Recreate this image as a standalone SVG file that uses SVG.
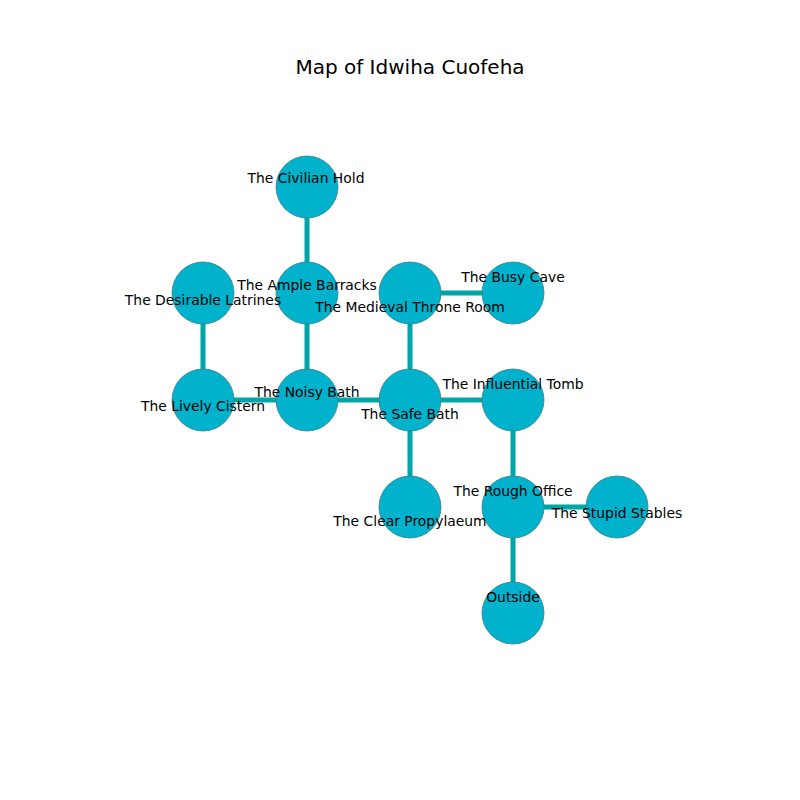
<svg xmlns="http://www.w3.org/2000/svg" width="800" height="800" viewBox="0 0 800 800">
<style>
.bg{fill:#ffffff}
.e{stroke:#00a5a5;stroke-width:5;fill:none}
.n{fill:#00b2cc;stroke:#3a7f8a;stroke-width:0.8}
.l{font-family:"DejaVu Sans",sans-serif;font-size:13.9px;fill:#000;text-anchor:middle}
.t{font-family:"DejaVu Sans",sans-serif;font-size:20px;fill:#000;text-anchor:middle}
</style>
<rect class="bg" x="0" y="0" width="800" height="800"/>
<text class="t" x="410" y="74">Map of Idwiha Cuofeha</text>
<g id="connectors">
<line class="e" x1="307" y1="187" x2="307" y2="293"/>
<line class="e" x1="307" y1="293" x2="307" y2="400"/>
<line class="e" x1="203" y1="293" x2="203" y2="400"/>
<line class="e" x1="203" y1="400" x2="307" y2="400"/>
<line class="e" x1="307" y1="400" x2="410" y2="400"/>
<line class="e" x1="410" y1="293" x2="410" y2="400"/>
<line class="e" x1="410" y1="293" x2="513" y2="293"/>
<line class="e" x1="410" y1="400" x2="513" y2="400"/>
<line class="e" x1="410" y1="400" x2="410" y2="507"/>
<line class="e" x1="513" y1="400" x2="513" y2="507"/>
<line class="e" x1="513" y1="507" x2="617" y2="507"/>
<line class="e" x1="513" y1="507" x2="513" y2="613"/>
</g>
<g id="civilian-hold"><circle class="n" cx="307" cy="187" r="31"/></g>
<g id="ample-barracks"><circle class="n" cx="307" cy="293" r="31"/></g>
<g id="desirable-latrines"><circle class="n" cx="203" cy="293" r="31"/></g>
<g id="lively-cistern"><circle class="n" cx="203" cy="400" r="31"/></g>
<g id="noisy-bath"><circle class="n" cx="307" cy="400" r="31"/></g>
<g id="medieval-throne-room"><circle class="n" cx="410" cy="293" r="31"/></g>
<g id="busy-cave"><circle class="n" cx="513" cy="293" r="31"/></g>
<g id="safe-bath"><circle class="n" cx="410" cy="400" r="31"/></g>
<g id="influential-tomb"><circle class="n" cx="513" cy="400" r="31"/></g>
<g id="clear-propylaeum"><circle class="n" cx="410" cy="507" r="31"/></g>
<g id="rough-office"><circle class="n" cx="513" cy="507" r="31"/></g>
<g id="stupid-stables"><circle class="n" cx="617" cy="507" r="31"/></g>
<g id="outside"><circle class="n" cx="513" cy="613" r="31"/></g>
<g id="labels">
<text class="l" x="306" y="183">The Civilian Hold</text>
<text class="l" x="307" y="290">The Ample Barracks</text>
<text class="l" x="203" y="305">The Desirable Latrines</text>
<text class="l" x="410" y="312">The Medieval Throne Room</text>
<text class="l" x="513" y="282">The Busy Cave</text>
<text class="l" x="513" y="389">The Influential Tomb</text>
<text class="l" x="410" y="419">The Safe Bath</text>
<text class="l" x="307" y="397">The Noisy Bath</text>
<text class="l" x="203" y="411">The Lively Cistern</text>
<text class="l" x="410" y="526">The Clear Propylaeum</text>
<text class="l" x="513" y="496">The Rough Office</text>
<text class="l" x="617" y="518">The Stupid Stables</text>
<text class="l" x="513" y="602">Outside</text>
</g>
</svg>
